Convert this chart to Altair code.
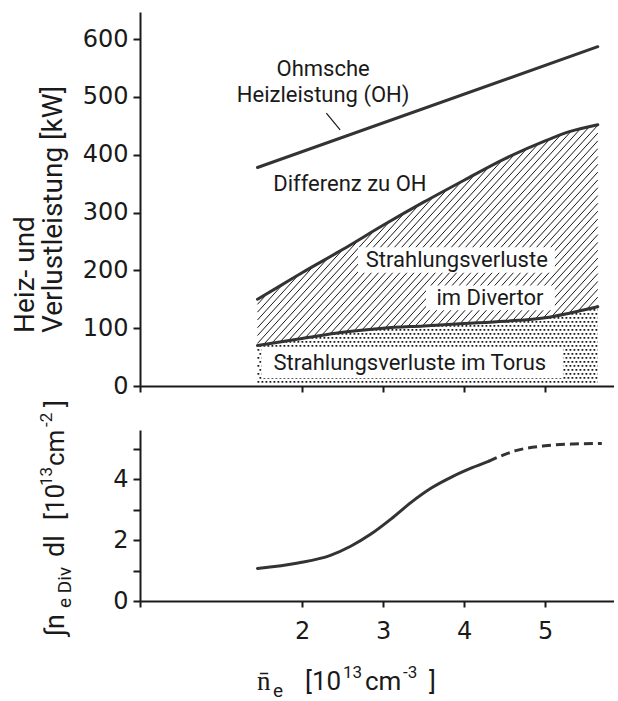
import math

import altair as alt
import numpy as np
import pandas as pd

# ---- data -----------------------------------------------------------------
# line-averaged density n_e [1e13 cm^-3] and powers [kW]
oh_x = [1.45, 5.65]
oh_kw = [378, 587]

diff_x = [1.45, 1.75, 2.0, 2.5, 3.0, 3.5, 4.0, 4.5, 5.0, 5.3, 5.65]
diff_kw = [150, 175, 196, 236, 278, 318, 356, 393, 424, 440, 452]

torus_x = [1.45, 2.0, 2.5, 3.0, 3.5, 4.0, 4.5, 5.0, 5.3, 5.65]
torus_kw = [70, 82, 93, 100, 104, 108, 112, 118, 126, 137]

# divertor line density [1e13 cm^-2]: measured (solid) and extrapolated (dashed)
div_x = [1.45, 1.95, 2.35, 2.6, 2.85, 3.1, 3.35, 3.6, 3.85, 4.1, 4.3]
div_val = [1.07, 1.25, 1.5, 1.8, 2.2, 2.7, 3.25, 3.72, 4.08, 4.38, 4.59]
div_ext_x = [4.3, 4.65, 5.0, 5.35, 5.7]
div_ext_val = [4.59, 4.95, 5.1, 5.16, 5.18]

# annotations inside the power panel
note_text = ["Ohmsche", "Heizleistung (OH)", "Differenz  zu  OH",
             "Strahlungsverluste", "im  Divertor", "Strahlungsverluste  im  Torus"]
note_x = [2.26, 2.26, 2.59, 3.91, 4.32, 3.33]
note_kw = [548, 503, 349, 218, 153, 40]

leader_x = [2.30, 2.47]
leader_kw = [472, 443]

# blank label fields cut out of the hatching / stippling
box_x = [1.50, 2.69, 3.53]
box_x2 = [5.22, 5.12, 5.12]
box_kw = [14, 196, 131]
box_kw2 = [67, 240, 174]

# ---- geometry / style -----------------------------------------------------
X_DOM = [0.0, 5.85]
TOP_DOM = [0, 647]
BOT_DOM = [0, 5.62]
W = 474
H_TOP = 374
H_BOT = 171

INK = "#1a1a1a"
CURVE = "#333333"
NUM_FONT = "DejaVu Sans"
TXT_FONT = "Roboto"

px_per_x = W / (X_DOM[1] - X_DOM[0])
px_per_kw = H_TOP / (TOP_DOM[1] - TOP_DOM[0])

# diagonal hatching between the torus and the OH-difference curve
HATCH_SLOPE = 1.1      # screen dy/dx of the hatch strokes
HATCH_GAP = 7.1        # horizontal distance between strokes, px
k = HATCH_SLOPE * px_per_x / px_per_kw
xs = np.linspace(diff_x[0], diff_x[-1], 4000)
lo = np.interp(xs, torus_x, torus_kw)
hi = np.interp(xs, diff_x, diff_kw)
hatch = []
c = xs[0] - max(diff_kw) / k
while c < xs[-1]:
    v = k * (xs - c)
    m = np.nonzero((v >= lo) & (v <= hi))[0]
    if m.size:
        i0, i1 = m[0], m[-1]
        hatch.append({"x": xs[i0], "v": v[i0], "x2": xs[i1], "v2": v[i1]})
    c += HATCH_GAP / px_per_x
hatch_df = pd.DataFrame(hatch)

# stippling below the torus curve: dotted horizontal rows on a fixed grid
DOT_GAP = 4.0
DOT = 1.8
dot_dx = DOT_GAP / px_per_x
dot_dv = DOT_GAP / px_per_kw
rows = []
j = 0
while True:
    lvl = 7 + j * dot_dv
    if lvl >= max(torus_kw) - 2:
        break
    if lvl <= torus_kw[0]:
        x0 = torus_x[0]
    else:
        x0 = float(np.interp(lvl, torus_kw, torus_x))
        x0 = torus_x[0] + math.ceil((x0 - torus_x[0]) / dot_dx) * dot_dx
    rows.append({"x": x0, "x2": torus_x[-1], "v": lvl, "odd": j % 2})
    j += 1
rows_df = pd.DataFrame(rows)

# ---- encodings ------------------------------------------------------------
axis_common = dict(domainColor=INK, domainWidth=2, tickColor=INK, tickWidth=2,
                   grid=False, labelColor=INK, labelFont=NUM_FONT,
                   labelFontSize=24, title=None)

x_top = alt.X("x:Q", scale=alt.Scale(domain=X_DOM, nice=False, zero=False),
              axis=alt.Axis(values=[0, 2, 3, 4, 5], labels=False, tickSize=6,
                            **axis_common))
y_top = alt.Y("v:Q", scale=alt.Scale(domain=TOP_DOM, nice=False),
              axis=alt.Axis(values=list(range(0, 601, 100)), tickSize=7,
                            labelPadding=5, **axis_common))

x_bot = alt.X("x:Q", scale=alt.Scale(domain=X_DOM, nice=False, zero=False),
              axis=alt.Axis(values=[0, 2, 3, 4, 5], tickSize=6, labelPadding=12,
                            labelExpr="datum.value == 0 ? '' : datum.label",
                            **axis_common))
y_bot = alt.Y("v:Q", scale=alt.Scale(domain=BOT_DOM, nice=False),
              axis=alt.Axis(values=[0, 1, 2, 3, 4, 5], tickSize=7, labelPadding=5,
                            labelExpr="datum.value % 2 == 0 ? datum.label : ''",
                            **axis_common))


def line_df(x, v):
    return pd.DataFrame({"x": x, "v": v})


def piece(txt, px, py, size, angle=0):
    """A free-standing piece of axis caption, placed in view pixels."""
    return alt.Chart(alt.Data(values=[{}])).mark_text(
        text=txt, fontSize=size, font=TXT_FONT, color=INK, angle=angle,
        align="left", baseline="alphabetic",
    ).encode(x=alt.value(px), y=alt.value(py))


# ---- upper panel: heating and loss power ---------------------------------
hatch_layer = alt.Chart(hatch_df).mark_rule(color=INK, strokeWidth=1).encode(
    x=x_top, y=y_top, x2="x2:Q", y2="v2:Q")

dots_even = alt.Chart(rows_df[rows_df.odd == 0]).mark_rule(
    color=INK, strokeWidth=DOT, strokeDash=[DOT, DOT_GAP - DOT]).encode(
    x=x_top, y=y_top, x2="x2:Q")
dots_odd = alt.Chart(rows_df[rows_df.odd == 1]).mark_rule(
    color=INK, strokeWidth=DOT, strokeDash=[DOT, DOT_GAP - DOT],
    strokeDashOffset=DOT_GAP / 2).encode(x=x_top, y=y_top, x2="x2:Q")

boxes = alt.Chart(pd.DataFrame({"x": box_x, "x2": box_x2, "v": box_kw,
                                "v2": box_kw2})).mark_rect(color="white").encode(
    x=x_top, y=y_top, x2="x2:Q", y2="v2:Q")

curve_style = dict(color=CURVE, strokeWidth=3, strokeCap="round")
torus_line = alt.Chart(line_df(torus_x, torus_kw)).mark_line(
    interpolate="monotone", **curve_style).encode(x=x_top, y=y_top)
diff_line = alt.Chart(line_df(diff_x, diff_kw)).mark_line(
    interpolate="monotone", **curve_style).encode(x=x_top, y=y_top)
oh_line = alt.Chart(line_df(oh_x, oh_kw)).mark_line(**curve_style).encode(
    x=x_top, y=y_top)

leader = alt.Chart(pd.DataFrame({"x": [leader_x[0]], "x2": [leader_x[1]],
                                 "v": [leader_kw[0]], "v2": [leader_kw[1]]})
                   ).mark_rule(color=INK, strokeWidth=1.2).encode(
    x=x_top, y=y_top, x2="x2:Q", y2="v2:Q")

notes = alt.Chart(pd.DataFrame({"x": note_x, "v": note_kw, "label": note_text})
                  ).mark_text(font=TXT_FONT, fontSize=22, color=INK,
                              baseline="middle").encode(
    x=x_top, y=y_top, text="label:N")

top = alt.layer(
    hatch_layer, dots_even, dots_odd, boxes, torus_line, diff_line, oh_line,
    leader, notes,
    piece("Heiz- und", -106, 321, 28, angle=270),
    piece("Verlustleistung [kW]", -78, 321, 28, angle=270),
).properties(width=W, height=H_TOP)

# ---- lower panel: divertor line density -----------------------------------
div_line = alt.Chart(line_df(div_x, div_val)).mark_line(
    interpolate="monotone", **curve_style).encode(x=x_bot, y=y_bot)
div_ext = alt.Chart(line_df(div_ext_x, div_ext_val)).mark_line(
    interpolate="monotone", color=CURVE, strokeWidth=3,
    strokeDash=[9, 5]).encode(x=x_bot, y=y_bot)

bottom = alt.layer(
    div_line, div_ext,
    # y caption: integral of n_e,Div dl [10^13 cm^-2]
    piece("\u222bn", -76, 206, 27, angle=270),
    piece("e Div", -69, 178, 19, angle=270),
    piece("dl", -76, 127, 27, angle=270),
    piece("[10", -76, 90, 26, angle=270),
    piece("13", -88, 56, 17, angle=270),
    piece("cm", -76, 36, 26, angle=270),
    piece("-2", -88, -3, 17, angle=270),
    piece("]", -76, -23, 26, angle=270),
    # x caption: mean n_e [10^13 cm^-3]
    piece("n\u0304", 117, 260, 27),
    piece("e", 133, 267, 19),
    piece("[10", 165, 260, 26),
    piece("13", 203, 248, 17),
    piece("cm", 225, 260, 26),
    piece("-3", 263, 248, 17),
    piece("]", 289, 260, 26),
).properties(width=W, height=H_BOT)

chart = alt.vconcat(top, bottom, spacing=44, bounds="flush").properties(
    padding={"left": 12, "top": 12, "right": 0, "bottom": 0},
    background="white",
).configure_view(stroke=None)

chart.save("out.html", embed_options={"renderer": "svg", "actions": False})
